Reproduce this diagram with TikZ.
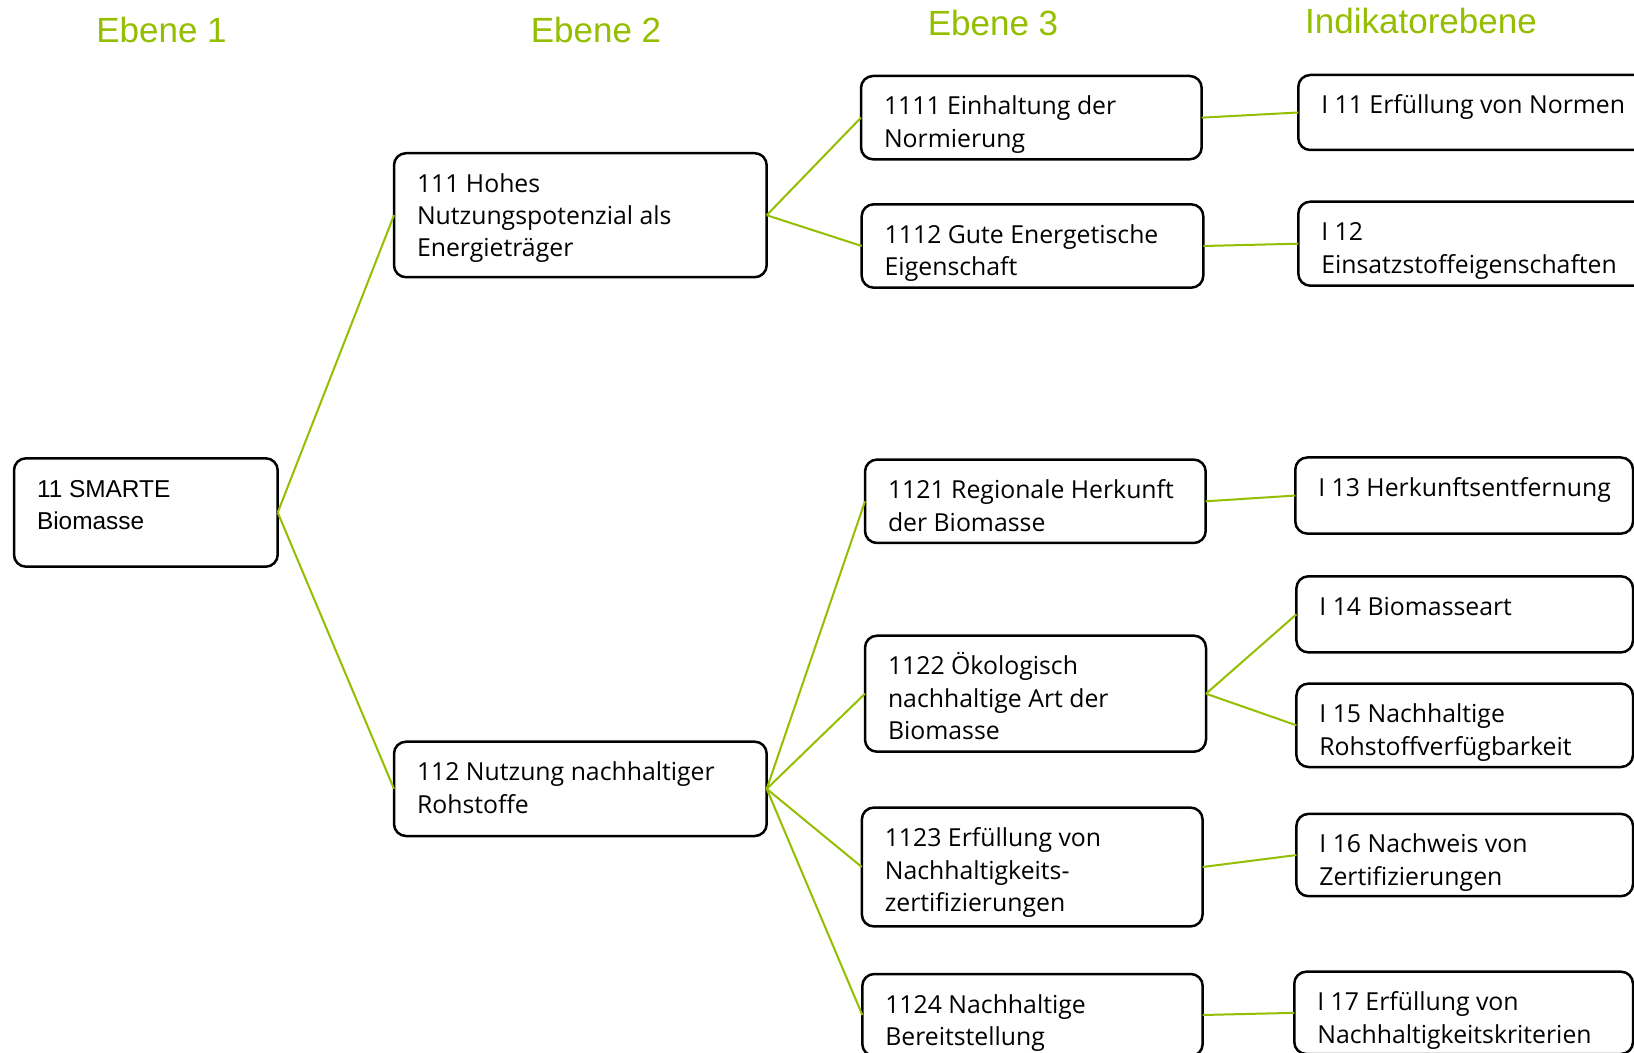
\documentclass[tikz,border=0pt]{standalone}
\usepackage{fontspec}
\setmainfont{Open Sans}
\newfontfamily\arialfont{Liberation Sans}
\usetikzlibrary{calc}
\definecolor{leafgreen}{RGB}{148,190,0}

\tikzset{
  boxst/.style={draw=black, line width=1.25pt, rounded corners=6pt,
    rectangle, inner sep=0pt, outer sep=0pt, fill=white},
  txt/.style={anchor=north west, inner sep=0pt, outer sep=0pt, align=left,
    font=\fontsize{12.4pt}{16.2pt}\selectfont, text=black},
  head/.style={font=\arialfont\fontsize{17.5pt}{20pt}\selectfont, text=leafgreen, inner sep=0pt},
  link/.style={draw=leafgreen, line width=1pt}
}

% box with corners (x1,y1)-(x2,y2) in pixel units and top-left aligned text
\newcommand\labelbox[7][]{%
  \node[boxst, minimum width={(#5-#3)*0.5pt}, minimum height={(#6-#4)*0.5pt}]
    (#2) at ({(#3+#5)/2},{(#4+#6)/2}) {};
  \node[txt, #1] (#2t) at ($(#2.north west)+(23,15)$) {\rule{0pt}{12pt}#7};
}

\begin{document}
\begin{tikzpicture}[x=0.5pt, y=-0.5pt]
  \clip (0,0) rectangle (1634,1053);
  \fill[white] (0,0) rectangle (1634,1053);

  % column headings
  \node[head] (h1) at (161.5,30) {Ebene 1};
  \node[head] (h2) at (596,30) {Ebene 2};
  \node[head] (h3) at (993,23) {Ebene 3};
  \node[head] (h4) at (1421,21) {Indikatorebene};

  % level 1
  \labelbox[font=\arialfont\fontsize{12.2pt}{16.2pt}\selectfont]{n11}{14}{458.3}{277.7}{566.7}{11 SMARTE\\Biomasse}

  % level 2
  \labelbox{n111}{394}{153.2}{766.7}{277.2}{111 Hohes\\Nutzungspotenzial als\\Energieträger}
  \labelbox{n112}{394}{741.7}{766.7}{836}{112 Nutzung nachhaltiger\\Rohstoffe}

  % level 3
  \labelbox{n1111}{861}{76}{1201.7}{159.3}{1111 Einhaltung der\\Normierung}
  \labelbox{n1112}{861.7}{204.3}{1203.3}{287.7}{1112 Gute Energetische\\Eigenschaft}
  \labelbox{n1121}{865}{459.6}{1205.7}{543}{1121 Regionale Herkunft\\der Biomasse}
  \labelbox{n1122}{865}{635.7}{1206}{751.7}{1122 Ökologisch\\nachhaltige Art der\\Biomasse}
  \labelbox{n1123}{861.8}{807.6}{1202.6}{926.4}{1123 Erfüllung von\\Nachhaltigkeits-\\zertifizierungen}
  \labelbox{n1124}{862.3}{974}{1202.7}{1056}{1124 Nachhaltige\\Bereitstellung}

  % indicator level
  \labelbox{i11}{1298.3}{75}{1660}{150}{I 11 Erfüllung von Normen}
  \labelbox{i12}{1298.3}{201.7}{1660}{285.7}{I 12\\Einsatzstoffeigenschaften}
  \labelbox{i13}{1295.3}{457.5}{1633}{533.6}{I 13 Herkunftsentfernung}
  \labelbox{i14}{1296.4}{576.3}{1633}{652.4}{I 14 Biomasseart}
  \labelbox{i15}{1296.4}{683.6}{1633}{767}{I 15 Nachhaltige\\Rohstoffverfügbarkeit}
  \labelbox{i16}{1296.4}{813.9}{1633}{896.2}{I 16 Nachweis von\\Zertifizierungen}
  \labelbox{i17}{1294.3}{971.7}{1633}{1054}{I 17 Erfüllung von\\Nachhaltigkeitskriterien}

  % connectors
  \draw[link] (n11.east) -- (n111.west);
  \draw[link] (n11.east) -- (n112.west);
  \draw[link] (n111.east) -- (n1111.west);
  \draw[link] (n111.east) -- (n1112.west);
  \draw[link] (n112.east) -- (n1121.west);
  \draw[link] (n112.east) -- (n1122.west);
  \draw[link] (n112.east) -- (n1123.west);
  \draw[link] (n112.east) -- (n1124.west);
  \draw[link] (n1111.east) -- (i11.west);
  \draw[link] (n1112.east) -- (i12.west);
  \draw[link] (n1121.east) -- (i13.west);
  \draw[link] (n1122.east) -- (i14.west);
  \draw[link] (n1122.east) -- (i15.west);
  \draw[link] (n1123.east) -- (i16.west);
  \draw[link] (n1124.east) -- (i17.west);
\end{tikzpicture}
\end{document}
